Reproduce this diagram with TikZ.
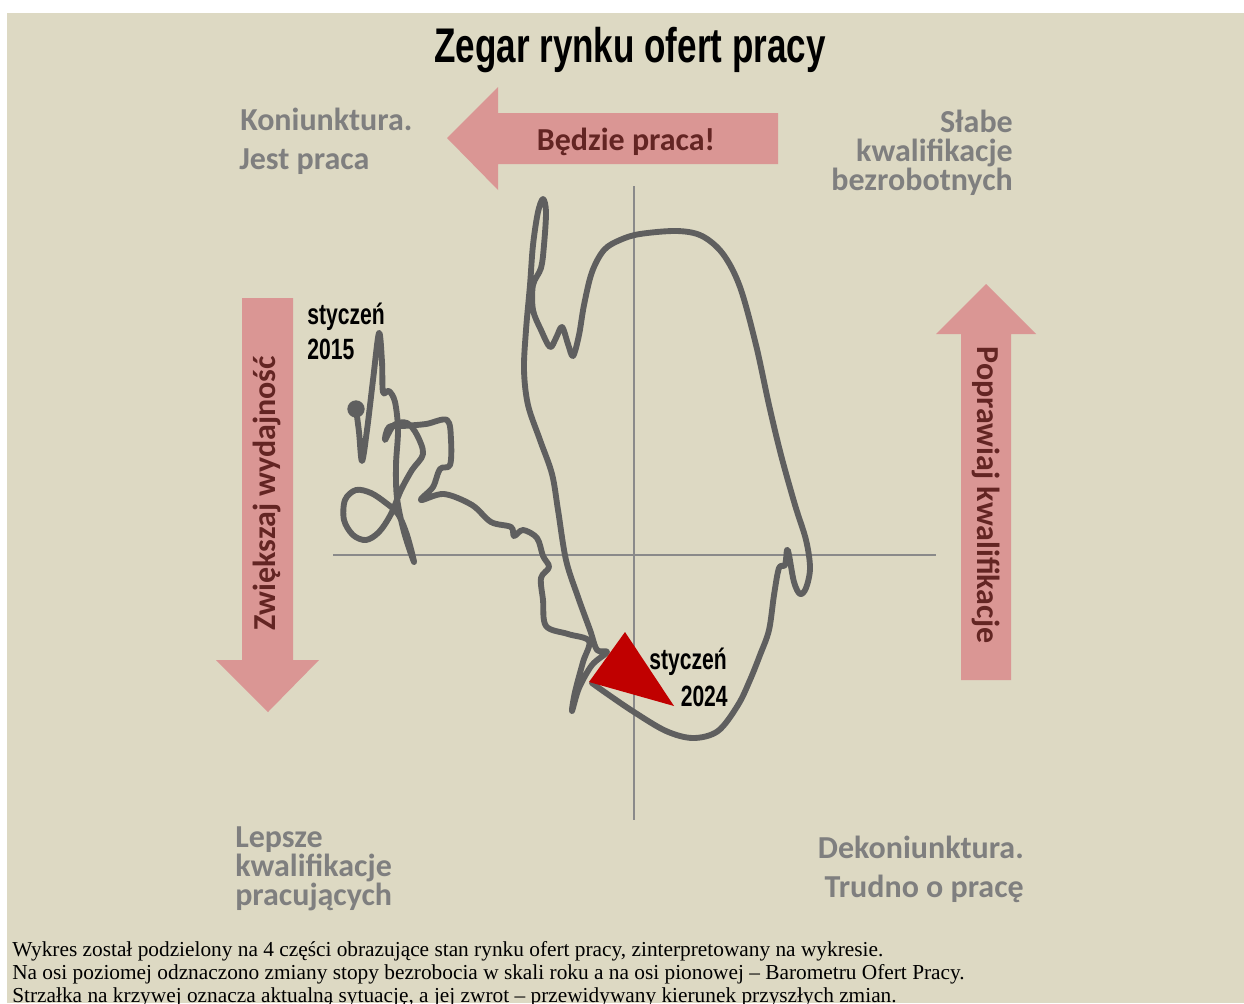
\documentclass[tikz,border=0pt]{standalone}
\usepackage{fontspec}
\setmainfont{Liberation Serif}
\newfontfamily\labfont{Carlito}
\newfontfamily\condfont[FakeStretch=0.72]{Liberation Sans}
\definecolor{bgc}{HTML}{DDD9C3}
\definecolor{arrowpink}{HTML}{DA9694}
\definecolor{arrowtext}{HTML}{632523}
\definecolor{labgray}{HTML}{7F7F7F}
\definecolor{curvegray}{HTML}{5F5F5F}
\definecolor{axisgray}{HTML}{8A8A8A}
\definecolor{tipred}{HTML}{C00000}
\tikzset{
  graylab/.style={inner sep=0pt, font=\labfont\bfseries\fontsize{24pt}{26pt}\selectfont, text=labgray},
  arrowlab/.style={inner sep=0pt, font=\labfont\bfseries\fontsize{24pt}{26pt}\selectfont, text=arrowtext},
  datelab/.style={inner sep=0pt, font=\condfont\bfseries\fontsize{22pt}{24pt}\selectfont, text=black},
  notelab/.style={inner sep=0pt, anchor=base west, font=\fontsize{16pt}{17.25pt}\selectfont, text=black},
  bigarrow/.style={fill=arrowpink, draw=none},
  axisline/.style={draw=axisgray, line width=1.5pt},
  clockcurve/.style={draw=curvegray, line width=4.4pt, line cap=round, line join=round}
}
\begin{document}
\begin{tikzpicture}[x=0.75pt,y=-0.75pt]
\useasboundingbox (0,0) rectangle (1244,1003);
\fill[white] (0,0) rectangle (1244,1003);
\fill[bgc] (7,13) rectangle (1244,1003);

% title
\node[anchor=base, inner sep=0pt, font=\condfont\bfseries\fontsize{36.5pt}{40pt}\selectfont] (title) at (630,62) {Zegar rynku ofert pracy};

% big arrows
\fill[bigarrow] (778,113) -- (498,113) -- (498,87) -- (447,138) -- (498,190) -- (498,164) -- (778,164) -- cycle;
\node[arrowlab, anchor=base] (bp) at (626,150) {Będzie praca!};

\fill[bigarrow] (242,298) -- (293,298) -- (293,660) -- (319,660) -- (268,712) -- (216,660) -- (242,660) -- cycle;
\node[arrowlab, rotate=90] (zw) at (267,493) {Zwiększaj wydajność};

\fill[bigarrow] (961,680) -- (961,334) -- (936,334) -- (986,284) -- (1036,334) -- (1011,334) -- (1011,680) -- cycle;
\node[arrowlab, rotate=-90] (pk) at (986,495) {Poprawiaj kwalifikacje};

% axes
\draw[axisline] (333,555) -- (936,555);
\draw[axisline] (634,186) -- (634,820);

% gray quadrant labels
\node[graylab, anchor=base west] (k1) at (240,130) {Koniunktura.};
\node[graylab, anchor=base west] (k2) at (239,169) {Jest praca};
\node[graylab, anchor=base east] (s1) at (1013,132) {Słabe};
\node[graylab, anchor=base east] (s2) at (1013,161) {kwalifikacje};
\node[graylab, anchor=base east] (s3) at (1013,190) {bezrobotnych};
\node[graylab, anchor=base west] (l1) at (235,847) {Lepsze};
\node[graylab, anchor=base west] (l2) at (235,876) {kwalifikacje};
\node[graylab, anchor=base west] (l3) at (235,905) {pracujących};
\node[graylab, anchor=base east] (d1) at (1024,858) {Dekoniunktura.};
\node[graylab, anchor=base east] (d2) at (1024,897) {Trudno o pracę};

% the clock curve
\draw[clockcurve] plot[smooth, tension=0.55] coordinates {
(356,409) (359,432) (362,461) (367,430) (373,380) (379,333) (382,362) (383,392)
(389,391) (395,402) (398,430) (396,465) (397,498) (404,532) (414,562) (407,535)
(398,514) (386,503) (371,493) (356,490) (345,500) (344,520) (353,535) (366,540)
(379,532) (391,514) (401,490) (412,470) (423,454) (417,435) (407,423) (394,425)
(385,440) (389,427) (403,426) (426,424) (447,420) (451,440) (450,465) (440,469)
(433,487) (421,500) (444,494) (472,505) (491,522) (511,527) (514,536) (523,530)
(537,538) (543,556) (549,567) (541,578) (543,600) (546,626) (568,634) (589,641)
(583,662) (575,692) (572,711) (579,688) (592,665) (607,652) (597,650) (590,630)
(578,597) (566,560) (558,510) (552,474) (540,440) (528,405) (524,370) (526,330)
(530,285) (533,245) (538,212) (543,199) (546,212) (544,245) (541,268) (533,285)
(533,310) (541,330) (550,347) (556,338) (562,327) (568,344) (573,356) (579,335)
(584,305) (592,272) (604,250) (620,240) (640,234) (677,231) (702,236) (723,254)
(740,287) (756,345) (769,405) (781,455) (795,505) (806,540) (810,568) (806,588)
(800,594) (794,582) (789,555) (787,550) (785,565) (779,568) (774,595) (769,630)
(760,655) (750,680) (738,705) (718,731) (693,738) (666,731) (634,712) (606,693)
(592,683)};
\fill[curvegray] (356,409) circle[radius=6.5pt];
\fill[tipred] (625,632) -- (589,682) -- (674,706) -- cycle;

% date labels
\node[datelab, anchor=base west] (st1) at (307,324) {styczeń};
\node[datelab, anchor=base west] (y1) at (307,359) {2015};
\node[datelab, anchor=base east] (st2) at (727,669) {styczeń};
\node[datelab, anchor=base east] (y2) at (728,706) {2024};

% note
\node[notelab] (n1) at (12,956) {Wykres został podzielony na 4 części obrazujące stan rynku ofert pracy, zinterpretowany na wykresie.};
\node[notelab] (n2) at (12,979) {Na osi poziomej odznaczono zmiany stopy bezrobocia w skali roku a na osi pionowej – Barometru Ofert Pracy.};
\node[notelab] (n3) at (12,1002) {Strzałka na krzywej oznacza aktualną sytuację, a jej zwrot – przewidywany kierunek przyszłych zmian.};
\end{tikzpicture}
\end{document}
